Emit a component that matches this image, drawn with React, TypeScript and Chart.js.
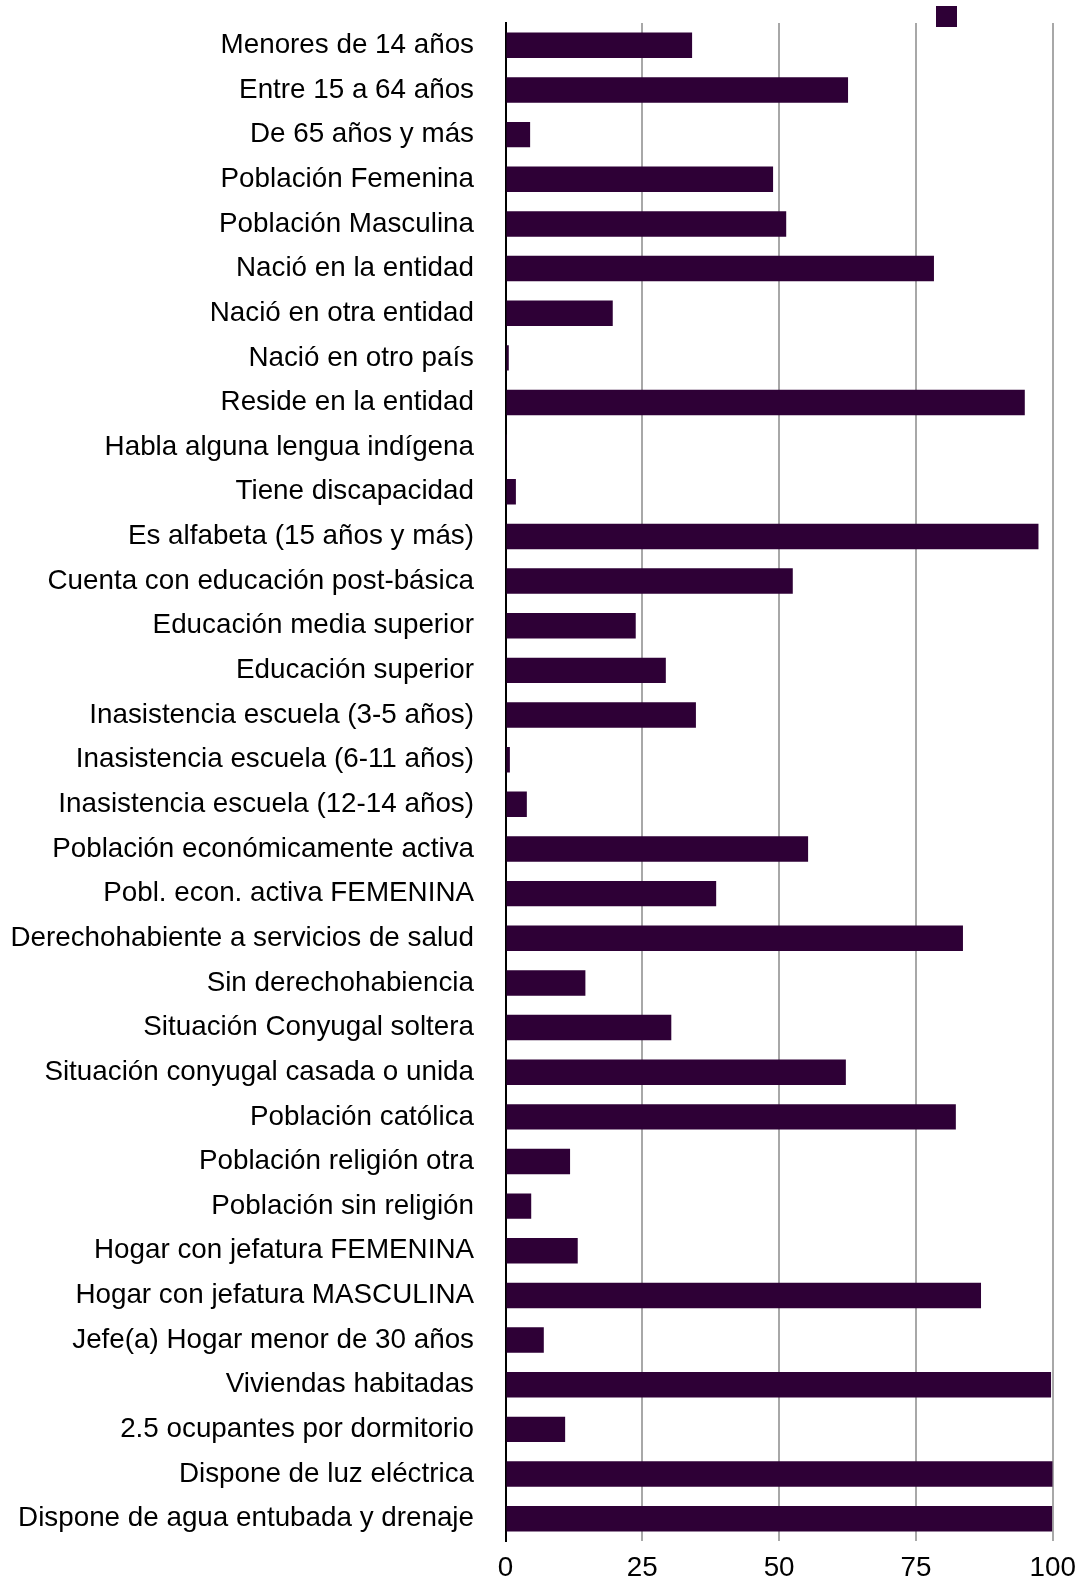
import React, { useEffect, useRef } from "react";
import { Chart, registerables } from "chart.js";

Chart.register(...registerables);

const categories: string[] = [
  "Menores de 14 años",
  "Entre 15 a 64 años",
  "De 65 años y más",
  "Población Femenina",
  "Población Masculina",
  "Nació en la entidad",
  "Nació en otra entidad",
  "Nació en otro país",
  "Reside en la entidad",
  "Habla alguna lengua indígena",
  "Tiene discapacidad",
  "Es alfabeta (15 años y más)",
  "Cuenta con educación post-básica",
  "Educación media superior",
  "Educación superior",
  "Inasistencia escuela (3-5 años)",
  "Inasistencia escuela (6-11 años)",
  "Inasistencia escuela (12-14 años)",
  "Población económicamente activa",
  "Pobl. econ. activa FEMENINA",
  "Derechohabiente a servicios de salud",
  "Sin derechohabiencia",
  "Situación Conyugal soltera",
  "Situación conyugal casada o unida",
  "Población católica",
  "Población religión otra",
  "Población sin religión",
  "Hogar con jefatura FEMENINA",
  "Hogar con jefatura MASCULINA",
  "Jefe(a) Hogar menor de 30 años",
  "Viviendas habitadas",
  "2.5 ocupantes por dormitorio",
  "Dispone de luz eléctrica",
  "Dispone de agua entubada y drenaje",
];

const values: number[] = [
  34.1, 62.6, 4.5, 48.9, 51.3, 78.3, 19.6, 0.6, 94.9, 0.1, 1.9, 97.4, 52.5,
  23.8, 29.3, 34.8, 0.8, 3.9, 55.3, 38.5, 83.6, 14.6, 30.3, 62.2, 82.3, 11.8,
  4.7, 13.2, 86.9, 7.0, 99.7, 10.9, 100, 99.9,
];

const xTicks: number[] = [0, 25, 50, 75, 100];

const BAR_COLOR = "#2e0036";
const FONT = "'Liberation Sans', Arial, Helvetica, sans-serif";
const FONT_SIZE = 27.8;

const legendSwatch = {
  id: "legendSwatch",
  afterDraw(chart: any) {
    const ctx = chart.ctx;
    ctx.save();
    ctx.fillStyle = chart.data.datasets[0].backgroundColor;
    ctx.fillRect(936, 6, 21, 21);
    ctx.restore();
  },
};

export default function App() {
  const ref = useRef<HTMLCanvasElement | null>(null);

  useEffect(() => {
    if (!ref.current) return;
    const chart = new Chart(ref.current, {
      type: "bar",
      data: {
        labels: categories,
        datasets: [
          {
            label: "",
            data: values,
            backgroundColor: BAR_COLOR,
            borderWidth: 0,
            barPercentage: 0.57,
            categoryPercentage: 1,
          },
        ],
      },
      options: {
        indexAxis: "y",
        animation: false,
        responsive: true,
        maintainAspectRatio: false,
        layout: { padding: { top: 23, right: 36.3, left: 0, bottom: 0 } },
        plugins: {
          legend: { display: false },
          tooltip: { enabled: false },
        },
        scales: {
          x: {
            min: 0,
            max: 100,
            afterBuildTicks: (scale: any) => {
              scale.ticks = xTicks.map((v) => ({ value: v }));
            },
            afterFit: (scale: any) => {
              scale.height = 44;
              scale.paddingLeft = 0;
              scale.paddingRight = 0;
            },
            grid: {
              color: (c: any) => (c.tick && c.tick.value === 0 ? "rgba(0,0,0,0)" : "#a8a8a8"),
              lineWidth: 2,
              drawTicks: false,
            },
            border: { display: false },
            ticks: {
              padding: 10.5,
              color: "#000",
              font: { family: FONT, size: FONT_SIZE },
              maxRotation: 0,
            },
          },
          y: {
            afterFit: (scale: any) => {
              scale.width = 505.5;
              scale.paddingTop = 0;
              scale.paddingBottom = 0;
            },
            grid: { display: false, drawTicks: false },
            border: { display: true, color: "#000", width: 2 },
            ticks: {
              padding: 31.5,
              color: "#000",
              autoSkip: false,
              font: { family: FONT, size: FONT_SIZE },
            },
          },
        },
      },
      plugins: [legendSwatch],
    });
    return () => chart.destroy();
  }, []);

  return (
    <div style={{ position: "absolute", left: 0, top: 0, width: 1089, height: 1585 }}>
      <canvas ref={ref} />
    </div>
  );
}
